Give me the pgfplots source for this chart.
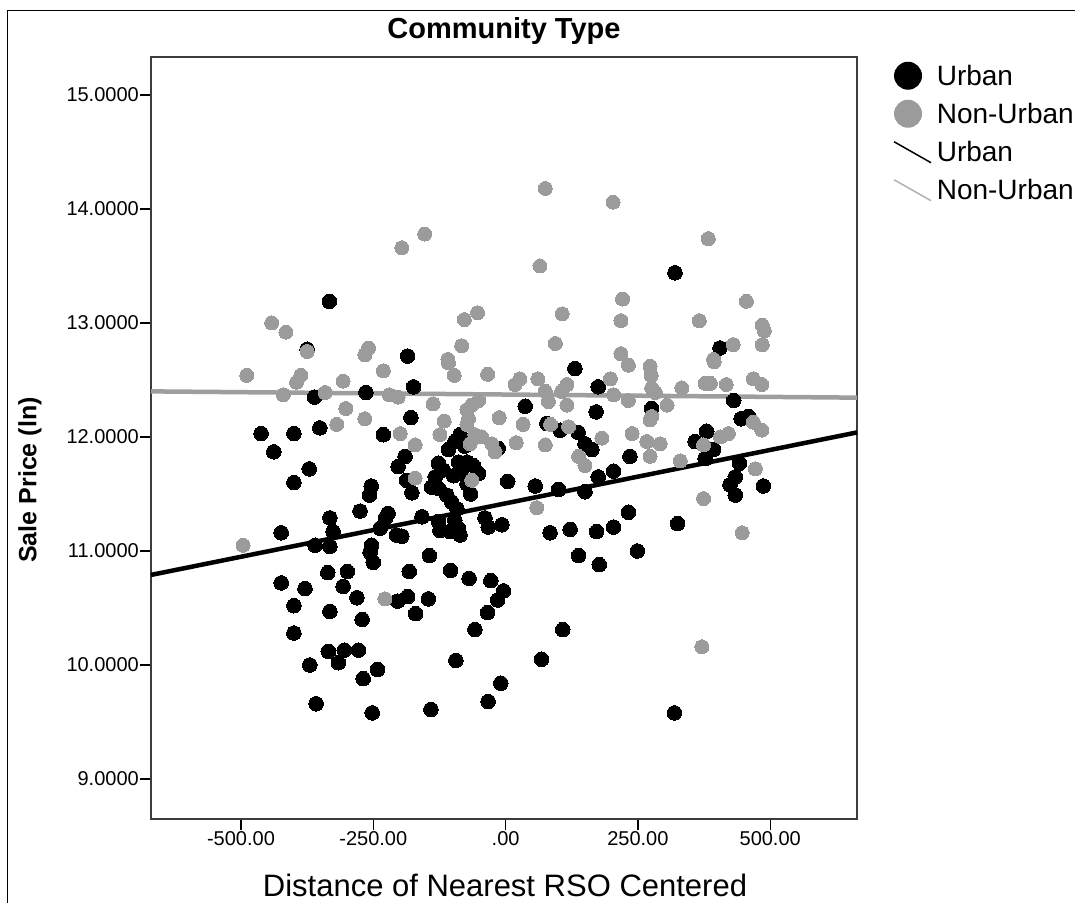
\documentclass[border=0pt]{standalone}
\usepackage{fontspec}
\setmainfont{Liberation Sans}
\usepackage{pgfplots}
\usepackage{pgfplotstable}
\pgfplotsset{compat=1.18}
\definecolor{ptgrey}{RGB}{155,155,155}
\definecolor{lngrey}{RGB}{158,158,158}
\definecolor{axgrey}{RGB}{60,60,60}

\pgfplotstableread{
x y
-333 13.19
-375 12.77
320 13.44
405 12.78
-185 12.71
-361 12.35
-264 12.39
-351 12.08
-462 12.03
-400 12.03
-231 12.02
-438 11.87
-371 11.72
-400 11.60
-254 11.57
-257 11.49
-275 11.35
-332 11.29
-227 11.29
-424 11.16
-326 11.17
-237 11.20
-360 11.05
-332 11.04
-253 11.05
-256 10.99
-250 10.90
-336 10.81
-299 10.82
-424 10.72
-379 10.67
-307 10.69
-281 10.59
-400 10.52
-332 10.47
-271 10.40
-400 10.28
-335 10.12
-305 10.13
-278 10.13
-316 10.02
-370 10.00
-242 9.96
-269 9.88
-358 9.66
-252 9.58
-144 10.96
138 10.96
177 10.88
-182 10.82
-104 10.83
-69 10.76
-28 10.74
-4 10.65
-15 10.57
-34 10.46
-204 10.56
-185 10.60
-146 10.58
-170 10.45
-58 10.31
108 10.31
-94 10.04
68 10.05
-9 9.84
-33 9.68
-141 9.61
249 11.00
319 9.58
431 12.32
276 12.25
445 12.16
459 12.18
380 12.05
358 11.96
393 11.89
235 11.83
377 11.81
442 11.77
434 11.65
424 11.58
434 11.49
487 11.57
232 11.34
325 11.24
131 12.60
-174 12.44
175 12.44
37 12.27
171 12.22
-179 12.17
78 12.12
103 12.06
137 12.04
-86 12.02
-96 11.96
-14 11.90
150 11.94
163 11.89
-108 11.89
-77 11.92
-190 11.83
-203 11.74
-127 11.77
-118 11.71
-133 11.65
-140 11.56
-61 11.75
-51 11.68
-73 11.78
-89 11.78
-83 11.71
-73 11.59
-98 11.66
-66 11.50
-187 11.62
-177 11.51
-127 11.55
-111 11.49
-102 11.43
-92 11.37
4 11.61
56 11.57
100 11.54
150 11.52
175 11.65
204 11.70
-222 11.33
-196 11.13
-158 11.30
-127 11.26
-124 11.18
-96 11.27
-89 11.20
-39 11.29
-33 11.21
-7 11.23
-105 11.17
-86 11.14
84 11.16
122 11.19
172 11.17
204 11.21
-206 11.14
}\urban

\pgfplotstableread{
x y
-442 13.00
-415 12.92
-375 12.75
-259 12.78
-266 12.72
75 14.18
203 14.06
-153 13.78
-196 13.66
65 13.50
221 13.21
-53 13.09
-78 13.03
107 13.08
218 13.02
-83 12.80
94 12.82
-109 12.68
218 12.73
383 13.74
455 13.19
366 13.02
485 12.98
489 12.93
430 12.81
485 12.81
393 12.68
-489 12.54
-387 12.54
-395 12.48
-231 12.58
-307 12.49
-420 12.37
-341 12.39
-302 12.25
-266 12.16
-319 12.11
-496 11.05
-228 10.58
371 10.16
232 12.63
273 12.62
275 12.54
394 12.66
377 12.47
387 12.47
417 12.46
468 12.51
484 12.46
333 12.43
276 12.43
283 12.39
232 12.32
305 12.28
276 12.18
273 12.15
468 12.13
484 12.06
239 12.03
421 12.03
406 12.00
267 11.96
292 11.94
374 11.93
273 11.83
330 11.79
472 11.72
374 11.46
447 11.16
-108 12.65
-97 12.54
-34 12.55
27 12.51
18 12.46
61 12.51
116 12.46
198 12.51
-220 12.37
-203 12.35
75 12.40
81 12.31
106 12.40
116 12.28
204 12.37
-137 12.29
-51 12.32
-64 12.28
-73 12.24
-70 12.16
-73 12.11
-116 12.14
-12 12.17
33 12.11
85 12.11
119 12.09
-199 12.03
-124 12.02
-58 12.02
-45 12.00
-26 11.94
-67 11.94
20 11.95
75 11.93
182 11.99
-171 11.93
-20 11.87
138 11.83
150 11.75
-171 11.64
-64 11.62
59 11.38
}\nonurban

\begin{document}
\begin{tikzpicture}
\useasboundingbox (0pt,0pt) rectangle (1075pt,-903pt);
\fill[white] (0pt,0pt) rectangle (1075pt,-903pt);
\draw[line width=1.6pt] (7.5pt,-903pt) -- (7.5pt,-10.5pt) -- (1075pt,-10.5pt);
\begin{axis}[
  at={(151pt,-819pt)}, anchor=south west,
  scale only axis, width=706pt, height=762pt,
  xmin=-670, xmax=664, ymin=8.649, ymax=15.333,
  xtick={-500,-250,0,250,500},
  xticklabels={-500.00,-250.00,.00,250.00,500.00},
  ytick={9,10,11,12,13,14,15},
  yticklabels={9.0000,10.0000,11.0000,12.0000,13.0000,14.0000,15.0000},
  tick align=outside, major tick length=11pt,
  xtick pos=bottom, ytick pos=left,
  tick style={black, line width=1.2pt},
  axis line style={axgrey, line width=1.6pt},
  ticklabel style={font=\fontsize{20}{24}\selectfont, inner sep=1pt},
  clip=false,
  legend style={at={(1.0411,0.9938)}, anchor=north west, draw=none, fill=none,
    inner sep=0pt, outer sep=0pt, row sep=10pt, column sep=5pt,
    font=\fontsize{28}{30}\selectfont, nodes={inner sep=0pt}},
  legend cell align=left,
]
\addplot[color=black, only marks, mark=*, mark size=7.3pt, mark options={draw=black, fill=black, line width=0pt}, forget plot] table[x=x,y=y] {\urban};
\addplot[color=ptgrey, only marks, mark=*, mark size=7pt, mark options={draw=ptgrey, fill=ptgrey, line width=0pt}, forget plot] table[x=x,y=y] {\nonurban};
\addplot[black, line width=4.5pt, forget plot] coordinates {(-670,10.79) (664,12.04)};
\addplot[lngrey, line width=4.5pt, forget plot] coordinates {(-670,12.40) (664,12.345)};
\addlegendimage{black, legend image code/.code={\path[draw=none,fill=none] (0pt,-14pt) rectangle (45pt,14pt); \fill[black, draw=none] (22pt,0pt) circle (14pt);}}
\addlegendentry{Urban}
\addlegendimage{black, legend image code/.code={\path[draw=none,fill=none] (0pt,-14pt) rectangle (45pt,14pt); \fill[ptgrey, draw=none] (22pt,0pt) circle (14pt);}}
\addlegendentry{Non-Urban}
\addlegendimage{black, legend image code/.code={\path[draw=none,fill=none] (0pt,-14pt) rectangle (45pt,14pt); \draw[black, line width=1.5pt] (8pt,10pt) -- (45pt,-11pt);}}
\addlegendentry{Urban}
\addlegendimage{black, legend image code/.code={\path[draw=none,fill=none] (0pt,-14pt) rectangle (45pt,14pt); \draw[lngrey!80, line width=1.5pt] (8pt,10pt) -- (45pt,-11pt);}}
\addlegendentry{Non-Urban}
\end{axis}
\node[font=\bfseries\fontsize{29}{34}\selectfont] at (504pt,-31pt) {Community Type};
\node[font=\fontsize{31}{36}\selectfont] at (505pt,-885pt) {Distance of Nearest RSO Centered};
\node[rotate=90, font=\bfseries\fontsize{25}{30}\selectfont] at (30pt,-480pt) {Sale Price (ln)};
\end{tikzpicture}
\end{document}
